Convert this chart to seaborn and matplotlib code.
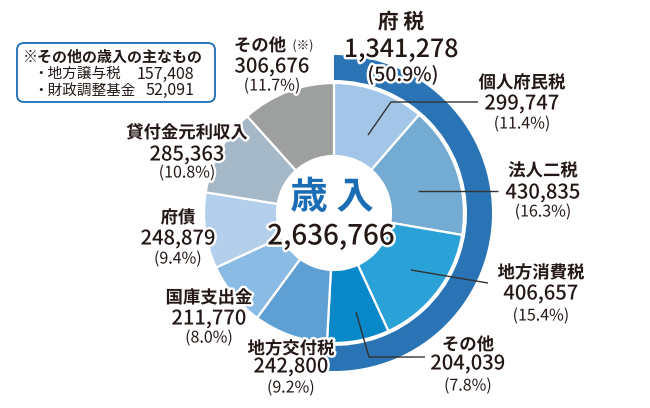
import matplotlib
matplotlib.use("Agg")
import matplotlib.pyplot as plt
import matplotlib.patheffects as pe
from matplotlib.patches import FancyBboxPatch
import seaborn as sns

# Data (unit: million yen)
names = ["個人府民税", "法人二税", "地方消費税", "その他",
         "地方交付税", "国庫支出金", "府債", "貸付金元利収入", "その他"]
values = [299747, 430835, 406657, 204039,
          242800, 211770, 248879, 285363, 306676]
shares = ["11.4%", "16.3%", "15.4%", "7.8%",
          "9.2%", "8.0%", "9.4%", "10.8%", "11.7%"]
tax_name = "府 税"
tax_value = 1341278
tax_share = "50.9%"
total = 2636766
note_items = ["地方譲与税", "財政調整基金"]
note_values = [157408, 52091]

colors = ["#a2c5e8", "#73abd3", "#2aa1d7", "#0788c9",
          "#5e9fd4", "#89bbe5", "#b4cfec", "#a5b8c7", "#9e9f9f"]
ring_color = "#2a74b5"
ink = "#231815"
blue_txt = "#1a6db5"

sns.set_style("white")
plt.rcParams["font.family"] = ["Noto Sans CJK JP", "DejaVu Sans"]

W, H = 650, 408
fig = plt.figure(figsize=(6.5, 4.08), dpi=100)
ax = fig.add_axes([0, 0, 1, 1])


def Y(py):
    return H - py


cx, cy = 334, Y(213)
halo = [pe.withStroke(linewidth=3.5, foreground="white")]

# outer ring for 府税
ax.pie([tax_value, total - tax_value], colors=[ring_color, "none"],
       radius=158, center=(cx, cy), startangle=90, counterclock=False,
       wedgeprops=dict(width=25, linewidth=0))
# inner donut
ax.pie(values, colors=colors, radius=130, center=(cx, cy), startangle=90,
       counterclock=False,
       wedgeprops=dict(width=73, edgecolor="white", linewidth=1.6))

ax.set_xlim(0, W)
ax.set_ylim(0, H)
ax.set_aspect("equal")
ax.axis("off")

# centre text
ax.text(332, Y(197), "歳 入", ha="center", va="center", fontsize=27,
        fontweight="bold", color=blue_txt, path_effects=halo)
ax.text(331, Y(236), f"{total:,}", ha="center", va="center", fontsize=20,
        fontweight="medium", color=ink, path_effects=halo)

# 府税 label
ax.text(401, Y(22), tax_name, ha="center", va="center", fontsize=15,
        fontweight="bold", color=ink, path_effects=halo)
ax.text(401, Y(50), f"{tax_value:,}", ha="center", va="center", fontsize=18,
        fontweight="medium", color=ink, path_effects=halo)
ax.text(403, Y(75), f"({tax_share})", ha="center", va="center", fontsize=14,
        fontweight="medium", color=ink, path_effects=halo)

# label centres (x, name y, value y, share y)
label_pos = [(522, 83, 104, 124), (543, 171, 193, 212), (541, 273, 294, 316),
             (468, 345, 364, 386), (291, 349, 367, 388), (209, 298, 319, 338),
             (178, 218, 239, 259), (187, 133, 155, 173), (272, 46, 67, 86)]

for i, (x, yn, yv, ys) in enumerate(label_pos):
    nm = names[i]
    if i == 8:
        ax.text(x - 12, Y(yn), nm, ha="center", va="center", fontsize=12.5,
                fontweight="bold", color=ink, path_effects=halo)
        ax.text(x + 31, Y(yn), "(※)", ha="center", va="center", fontsize=9,
                color=ink, path_effects=halo)
    else:
        ax.text(x, Y(yn), nm, ha="center", va="center", fontsize=12.5,
                fontweight="bold", color=ink, path_effects=halo)
    ax.text(x, Y(yv), f"{values[i]:,}", ha="center", va="center", fontsize=14.5,
            fontweight="medium", color=ink, path_effects=halo)
    ax.text(x, Y(ys), f"({shares[i]})", ha="center", va="center", fontsize=11.5,
            color=ink, path_effects=halo)

# leader lines
leaders = [[(368, 135), (391, 102), (478, 102)],
           [(418, 191), (498, 191)],
           [(411, 270), (488, 283)],
           [(356, 312), (369, 357), (425, 357)]]
for pts in leaders:
    ax.plot([p[0] for p in pts], [Y(p[1]) for p in pts], color="#333333",
            linewidth=1.0, solid_capstyle="butt")

# note box
box = FancyBboxPatch((17, Y(102)), 198, 59,
                     boxstyle="round,pad=0,rounding_size=7",
                     facecolor="white", edgecolor=blue_txt, linewidth=1.3)
ax.add_patch(box)
ax.text(23, Y(57), "※その他の歳入の主なもの", ha="left", va="center",
        fontsize=10.8, fontweight="bold", color=ink)
for k, (nm, v) in enumerate(zip(note_items, note_values)):
    yy = Y(74 + 16.5 * k)
    ax.text(33, yy, "・" + nm, ha="left", va="center", fontsize=10.5, color=ink)
    ax.text(194, yy, f"{v:,}", ha="right", va="center", fontsize=11.5, color=ink)

fig.savefig("out.png", dpi=100)
